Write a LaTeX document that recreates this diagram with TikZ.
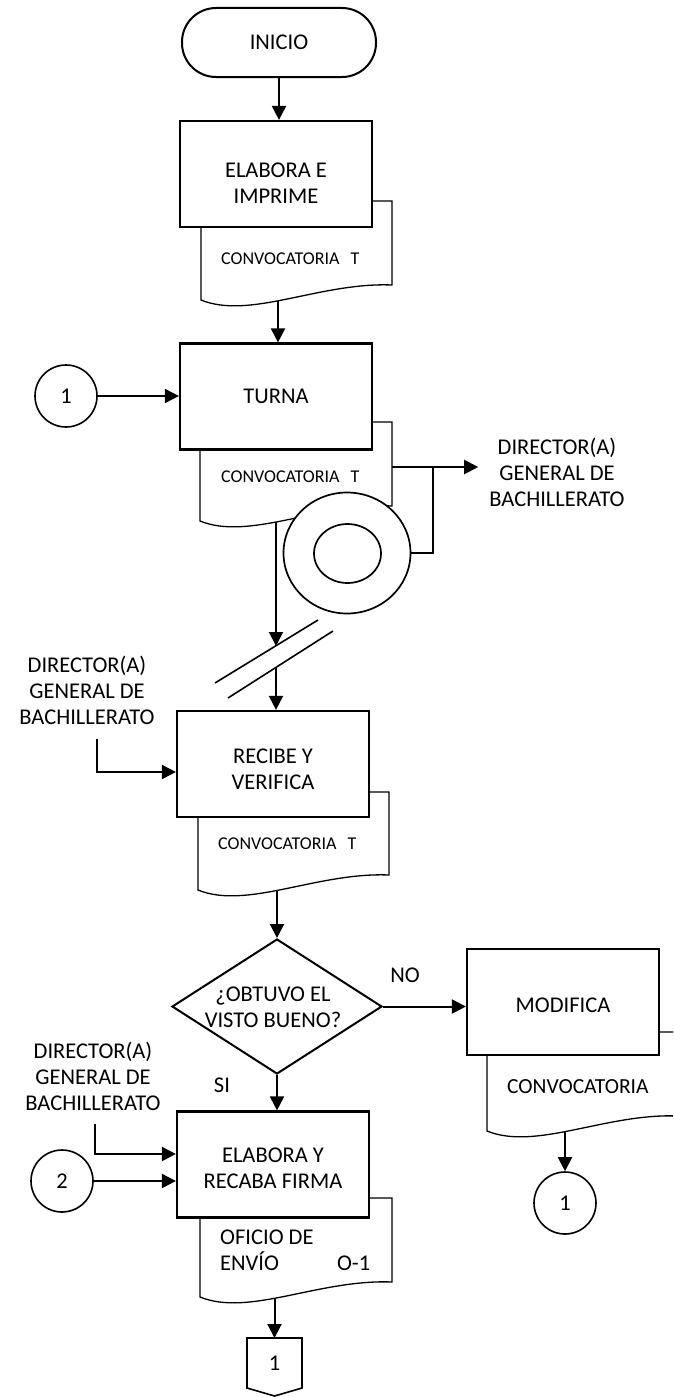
\documentclass[tikz,border=0pt]{standalone}
\usepackage{fontspec}
\setmainfont{Carlito}
\usetikzlibrary{arrows.meta,shapes.geometric}
\pgfdeclarelayer{bg}
\pgfsetlayers{bg,main}
\tikzset{
  proc/.style={draw, line width=2.2pt, fill=white, minimum width=192pt, minimum height=106pt, inner sep=0pt},
  term/.style={draw, line width=2pt, fill=white, rounded corners=34pt, minimum width=194pt, minimum height=69pt, inner sep=0pt, font=\fontsize{22.5}{26}\selectfont},
  txt/.style={font=\fontsize{22.5}{26}\selectfont, align=center, inner sep=0pt},
  small/.style={font=\fontsize{18}{21}\selectfont, inner sep=0pt, anchor=west},
  conn/.style={draw, line width=1.6pt, fill=white, circle, minimum size=62pt, inner sep=0pt, font=\fontsize{22.5}{26}\selectfont},
  decision/.style={draw, diamond, line width=2pt, fill=white, minimum width=210pt, minimum height=135pt, inner sep=0pt},
  disk/.style={draw, ellipse, line width=1.7pt, fill=white, inner sep=0pt},
  flow/.style={line width=2pt, -{Triangle[length=14pt,width=14pt]}},
  plain/.style={line width=2pt},
  slash/.style={line width=1.6pt},
  docline/.style={line width=1.3pt, fill=white},
}
% document symbol: left x, top y, right x, bottom-left y
\newcommand{\docshape}[4]{%
  \draw[docline] (#1,#2) -- (#3,#2) -- (#3,#4-15)
    .. controls (#1+119,#4-18) and (#1+49,#4+20) .. (#1,#4) -- cycle;
}
\begin{document}
\begin{tikzpicture}[x=1pt,y=-1pt]
\useasboundingbox (0,0) rectangle (673,1397);
\clip (0,0) rectangle (673,1397);

% start
\node[term] (ini) at (279,42.5) {INICIO};

% ELABORA E IMPRIME
\docshape{201}{201}{392}{300}
\node[proc] (box1) at (276,174) {};
\node[txt] (t1) at (276,183) {ELABORA E\\IMPRIME};
\node[small] (dt1) at (221,259) {CONVOCATORIA\hspace{11pt}T};
\coordinate (d1) at (278,296);

% TURNA
\docshape{200}{422}{392}{521}
\node[proc] (box2) at (276,396.5) {};
\node[txt] (t2) at (276,396) {TURNA};
\node[small] (dt2) at (221,477) {CONVOCATORIA\hspace{11pt}T};
\node[conn] (c1) at (66,396) {1};
\coordinate (d2) at (276,518);
\coordinate (d2r) at (392,467);
\coordinate (jn) at (433,467);
\node[disk, minimum width=127pt, minimum height=121pt] (disk) at (347,553) {};
\node[disk, minimum width=67pt, minimum height=59pt] (diskin) at (347.5,553.5) {};
\node[txt, inner xsep=11pt] (dirR) at (557,472) {DIRECTOR(A)\\GENERAL DE\\BACHILLERATO};

% transfer mark
\draw[slash] (215,683) -- (318,620);
\draw[slash] (228,698) -- (333,631);
\coordinate (s1) at (276,646);
\coordinate (s2) at (276,667);

% RECIBE Y VERIFICA
\docshape{198}{792}{389}{890}
\node[proc] (box3) at (273,764) {};
\node[txt] (t3) at (273,769) {RECIBE Y\\VERIFICA};
\node[small] (dt3) at (218,844) {CONVOCATORIA\hspace{11pt}T};
\node[txt] (dirL1) at (87,690) {DIRECTOR(A)\\GENERAL DE\\BACHILLERATO};
\coordinate (inL1) at (97,739);
\coordinate (d3) at (277,888);

% decision
\node[decision] (dec) at (277,1006.5) {};
\node[txt] (dect) at (273,1007) {¿OBTUVO EL\\VISTO BUENO?};
\node[txt] (no) at (405,975) {NO};
\node[txt] (si) at (222,1085) {SI};

% MODIFICA
\docshape{487}{1032}{678}{1131}
\node[proc] (box5) at (563,1002) {};
\node[txt] (t5) at (563,1005) {MODIFICA};
\node[small, font=\fontsize{21.5}{25}\selectfont] (dt5) at (507,1087) {CONVOCATORIA};
\coordinate (d5) at (565,1130);
\node[conn] (c3) at (565,1203) {1};

% ELABORA Y RECABA FIRMA
\docshape{200}{1198}{392}{1297}
\node[proc] (box4) at (273,1164.5) {};
\node[txt] (t4) at (273,1168) {ELABORA Y\\RECABA FIRMA};
\node[txt, align=left, anchor=west] (dt4) at (220,1250)
  {\makebox[150pt][l]{OFICIO DE}\\\makebox[150pt][l]{ENVÍO\hfill O-1}};
\node[txt] (dirL2) at (93,1076) {DIRECTOR(A)\\GENERAL DE\\BACHILLERATO};
\coordinate (inL2) at (95,1124);
\node[conn] (c2) at (62,1181) {2};
\coordinate (d4) at (274.5,1295);

% off-page connector
\coordinate (offtop) at (274.5,1338);
\draw[line width=1.6pt, fill=white] (247,1338) -- (302,1338) -- (302,1388) -- (274.5,1396) -- (247,1388) -- cycle;
\node[txt] (off) at (274.5,1363) {1};

% connectors
\begin{pgfonlayer}{bg}
  \draw[flow] (ini.south) -- (ini.south |- box1.north);
  \draw[flow] (d1) -- (d1 |- box2.north);
  \draw[flow] (c1.east) -- (c1.east -| box2.west);
  \draw[flow] (d2r) -- (dirR.west |- d2r);
  \draw[plain] (disk.east) -| (jn);
  \draw[flow] (d2) -- (s1);
  \draw[flow] (s2) -- (s2 |- box3.north);
  \draw[flow] (inL1) |- ([yshift=-8pt]box3.west);
  \draw[flow] (d3) -- (dec.north);
  \draw[flow] (dec.east) -- (dec.east -| box5.west);
  \draw[flow] (dec.south) -- (dec.south |- box4.north);
  \draw[flow] (d5) -- (c3.north);
  \draw[flow] (inL2) |- ([yshift=10.5pt]box4.west);
  \draw[flow] (c2.east) -- (c2.east -| box4.west);
  \draw[flow] (d4) -- (offtop);
\end{pgfonlayer}
\end{tikzpicture}
\end{document}
